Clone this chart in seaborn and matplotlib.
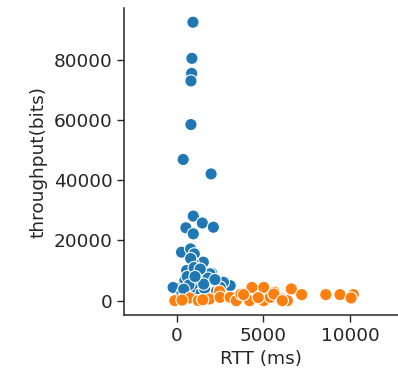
import matplotlib
matplotlib.use("Agg")
import matplotlib.pyplot as plt
import seaborn as sns
import pandas as pd

# Series A (blue)
rtt_a = [930, 870, 855, 814, 814, 366, 1977, 950, 1472, 2110, 523, 950,
         270, 797, 1008, 1530, 950, 563, 1240, 2017, 465, 1240, 1725, -17,
         2790, 3080, -215, 1280, 1920, 2690, 700, 1100, 1400, 800, 600,
         1600, 2300, 300, 1000, 1800, 500, 2500, 1350, 700, 1550, 2200,
         1050, 400]
thr_a = [92500, 80500, 75500, 73000, 58500, 46900, 42100, 28100, 25800, 24400,
         24200, 22200, 16100, 17200, 15550, 12800, 12400, 10000, 8900, 9100,
         6700, 6100, 6700, 4200, 6100, 5000, 4400, 6100, 8900, 6100, 3000,
         3500, 2500, 14000, 8000, 4000, 3200, 2500, 11000, 7500, 2000, 4500,
         10500, 5200, 5500, 7000, 8000, 3800]

# Series B (orange)
rtt_b = [-116, 756, 1240, 1880, 2460, 2500, 3080, 3430, 3700, 4200, 4340,
         5020, 5020, 5400, 5640, 6090, 6380, 6610, 7210, 8600, 9420, 10190,
         10060, 3850, 5600, 6090, 4700, 1500, 300]
thr_b = [0, 900, 0, 550, 3100, 1100, 1100, 0, 2200, 0, 4400,
         4400, 0, 1100, 2800, 550, 0, 3900, 2000, 2000, 2000, 2000,
         900, 2000, 2200, 0, 1000, 300, 200]

df = pd.DataFrame({
    "RTT (ms)": rtt_a + rtt_b,
    "throughput(bits)": thr_a + thr_b,
    "group": ["A"] * len(rtt_a) + ["B"] * len(rtt_b),
})

sns.set_theme(style="ticks")
plt.rcParams["font.family"] = ["DejaVu Sans"]

fig = plt.figure(figsize=(3.98, 3.80), dpi=100)
ax = fig.add_axes([0.312, 0.171, 0.688, 0.808])
sns.scatterplot(data=df, x="RTT (ms)", y="throughput(bits)", hue="group",
                palette=["#1f77b4", "#ff7f0e"], s=78, linewidth=0.8,
                edgecolor="white", legend=False, ax=ax)
ax.set_xlim(-3040, 12770)
ax.set_ylim(-4770, 97230)
ax.set_xticks([0, 5000, 10000])
ax.set_yticks([0, 20000, 40000, 60000, 80000])
ax.tick_params(labelsize=13.3, length=5, width=1, colors="#262626")
ax.set_xlabel("RTT (ms)", fontsize=13.3, color="#262626")
ax.set_ylabel("throughput(bits)", fontsize=13.3, color="#262626")
for sp in ["left", "bottom"]:
    ax.spines[sp].set_color("#262626")
    ax.spines[sp].set_linewidth(1.1)
sns.despine(ax=ax)
fig.savefig("out.png", dpi=100)
